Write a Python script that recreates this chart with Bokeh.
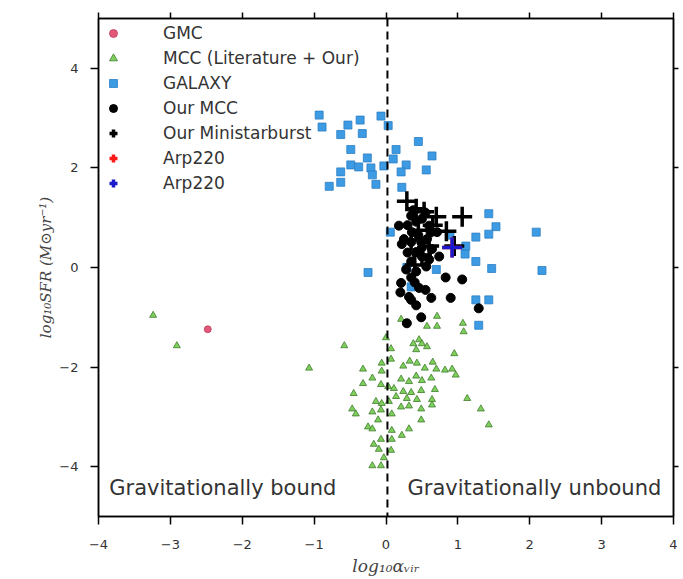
from bokeh.plotting import figure
from bokeh.models import (Span, Label, Legend, LegendItem, LinearAxis, FixedTicker)
from bokeh.embed import file_html
from bokeh.resources import INLINE

# ---------------- data ----------------
gmc_x = [-2.48]
gmc_y = [-1.24]

mcc_x = [-3.24, -2.91, -0.58, -1.07, 0.71, 0.21, 0.57, 0.71, 1.07, 1.08,
         0.46, 0.38, 0.57, 0.50, 0.42, 0.00, 0.07, 0.95, 0.07, 0.33,
         0.43, 0.65, -0.06, 0.24, -0.32, -0.06, 0.54, 0.70, 0.82, 0.92,
         0.97, -0.19, 0.21, 0.32, 0.42, 0.50, 0.63, -0.32, -0.07, 0.03,
         0.11, 0.24, 0.35, 0.49, 0.68, -0.45, 0.14, 0.29, 0.43, 0.64,
         1.13, -0.14, -0.06, 0.04, 0.21, 0.32, 0.49, 0.64, 1.32, -0.47,
         -0.42, -0.19, -0.07, 0.08, 0.49, -0.11, -0.25, -0.19, 0.08, 0.32,
         0.22, 1.43, -0.07, 0.08, -0.17, -0.10, 0.07, -0.03, -0.19, -0.07]
mcc_y = [-0.96, -1.57, -1.57, -2.02, -0.98, -1.04, -1.18, -1.18, -1.12, -1.29,
         -1.45, -1.53, -1.59, -1.53, -1.65, -1.41, -1.63, -1.73, -1.84, -1.88,
         -1.92, -1.90, -1.92, -1.98, -2.04, -2.08, -2.02, -2.04, -2.06, -2.04,
         -2.16, -2.22, -2.24, -2.29, -2.18, -2.27, -2.22, -2.33, -2.35, -2.39,
         -2.43, -2.49, -2.51, -2.47, -2.45, -2.53, -2.59, -2.63, -2.65, -2.65,
         -2.63, -2.69, -2.73, -2.69, -2.80, -2.78, -2.84, -2.76, -2.84, -2.84,
         -2.94, -2.90, -2.86, -2.94, -3.06, -3.06, -3.20, -3.24, -3.27, -3.24,
         -3.37, -3.16, -3.45, -3.45, -3.55, -3.65, -3.67, -3.82, -3.98, -3.98]

gal_x = [-0.93, -0.89, -0.53, -0.36, -0.33, -0.63, -0.07, 0.03, 0.45, -0.49,
         0.14, 0.64, -0.26, 0.10, 0.28, -0.49, -0.38, -0.21, -0.03, 0.21,
         0.56, -0.63, -0.19, -0.63, -0.79, -0.14, 0.22, 0.06, -0.25,
         1.43, 1.53, 1.43, 1.25, 0.89, 1.10, 1.25, 1.47, 0.70, 0.35,
         1.25, 1.43, 1.29, 2.09, 2.17, 1.11, 0.29]
gal_y = [3.06, 2.82, 2.86, 2.96, 2.69, 2.67, 3.04, 2.85, 2.53, 2.37,
         2.37, 2.24, 2.20, 2.18, 2.06, 2.06, 2.02, 2.00, 2.04, 1.92,
         1.96, 1.92, 1.86, 1.71, 1.63, 1.67, 1.61, 0.71, -0.10,
         1.08, 0.82, 0.67, 0.61, 0.65, 0.27, 0.12, -0.02, -0.04, -0.39,
         -0.65, -0.65, -1.16, 0.71, -0.06, 0.43, 0.00]

our_mcc_x = [0.35, 0.42, 0.50, 0.60, 0.36, 0.25, 0.35, 0.49, 0.57, 0.64,
             0.42, 0.50, 0.60, 0.35, 0.28, 0.42, 0.35, 0.21, 0.46, 0.83,
             1.06, 0.63, 0.90, 0.32, 0.42, 0.35, 0.49, 0.29, 1.29, 0.56,
             0.71, 0.22, 0.18, 0.74, 0.20, 0.40, 0.55, 0.30, 0.45, 0.38,
             0.55, 0.30, 0.50, 0.62]
our_mcc_y = [1.04, 0.92, 0.98, 0.84, 0.71, 0.57, 0.51, 0.51, 0.57, 0.37,
             0.31, 0.22, 0.16, 0.12, -0.04, -0.08, -0.20, -0.31, -0.41, -0.20,
             -0.24, -0.61, -0.61, -0.59, -0.76, -0.65, -1.00, -1.12, -0.82, 0.02,
             0.71, 0.47, 0.84, 0.22, -0.50, -0.30, -0.45, 0.30, 0.65, 1.15,
             1.10, 0.85, 0.40, 0.70]

msb_x = [0.29, 0.42, 0.53, 0.70, 1.06, 0.95, 0.60, 0.45, 0.50, 0.35, 0.65, 0.40, 0.84]
msb_y = [1.33, 1.18, 1.12, 1.02, 1.02, 0.43, 0.43, 0.75, 0.25, 0.55, 0.85, 0.05, 0.73]

arp_red_x = [0.92]
arp_red_y = [0.40]
arp_blue_x = [0.92]
arp_blue_y = [0.40]

x_ticks = [-4, -3, -2, -1, 0, 1, 2, 3, 4]
y_ticks = [-4, -2, 0, 2, 4]

sans = "DejaVu Sans"

# ---------------- figure ----------------
p = figure(frame_width=575, frame_height=498,
           x_range=(-4, 4), y_range=(-5, 5),
           output_backend="svg", toolbar_location=None,
           min_border_left=98, min_border_right=10,
           min_border_top=18, min_border_bottom=63,
           background_fill_color="white", border_fill_color="white")
p.grid.visible = False
p.outline_line_color = "black"
p.outline_line_width = 1.5

for ax in (p.xaxis[0], p.yaxis[0]):
    ax.major_tick_in = 0
    ax.major_tick_out = 8
    ax.minor_tick_line_color = None
    ax.axis_line_width = 1.5
    ax.major_tick_line_width = 1.5
    ax.major_label_text_font = sans
    ax.major_label_text_font_size = "13px"
    ax.major_label_text_color = "#333333"
    ax.axis_label_text_font = "DejaVu Serif"
    ax.axis_label_text_font_style = "italic"
    ax.axis_label_text_color = "#444444"

p.xaxis[0].ticker = FixedTicker(ticks=x_ticks)
p.yaxis[0].ticker = FixedTicker(ticks=y_ticks)
p.xaxis[0].axis_label = "log₁₀αᵥᵢᵣ"
p.yaxis[0].axis_label = "log₁₀SFR (M⊙yr⁻¹)"
p.xaxis[0].axis_label_text_font_size = "17px"
p.yaxis[0].axis_label_text_font_size = "15px"
p.xaxis[0].major_label_standoff = 15
p.yaxis[0].major_label_standoff = 12
p.xaxis[0].axis_label_standoff = 4
p.yaxis[0].axis_label_standoff = 1

top = LinearAxis(ticker=FixedTicker(ticks=x_ticks), major_label_text_color=None,
                 major_label_text_font_size="1px", major_label_standoff=0,
                 major_tick_in=0, major_tick_out=6, minor_tick_line_color=None,
                 axis_line_width=1.5, major_tick_line_width=1.5)
right = LinearAxis(ticker=FixedTicker(ticks=y_ticks), major_label_text_color=None,
                   major_label_text_font_size="1px", major_label_standoff=0,
                   major_tick_in=0, major_tick_out=5, minor_tick_line_color=None,
                   axis_line_width=1.5, major_tick_line_width=1.5)
p.add_layout(top, "above")
p.add_layout(right, "right")

p.add_layout(Span(location=0.02, dimension="height", line_color="black",
                  line_dash="8 5", line_width=2))

r_gmc = p.scatter(gmc_x, gmc_y, marker="circle", size=7,
                  fill_color="#e0587a", line_color="#c04060", line_width=0.8)
r_mcc = p.scatter(mcc_x, mcc_y, marker="triangle", size=7,
                  fill_color="#7fcf5c", line_color="#3d7a2c", line_width=0.8)
r_gal = p.scatter(gal_x, gal_y, marker="square", size=8,
                  fill_color="#3d9be3", line_color="#2c7fc4", line_width=0.8)
r_our = p.scatter(our_mcc_x, our_mcc_y, marker="circle", size=9,
                  fill_color="black", line_color="black")
r_msb = p.scatter(msb_x, msb_y, marker="cross", size=20,
                  line_color="black", line_width=3.5)
r_red = p.scatter(arp_red_x, arp_red_y, marker="cross", size=20,
                  line_color="#ff1a1a", line_width=3.5)
r_blue = p.scatter(arp_blue_x, arp_blue_y, marker="cross", size=20,
                   line_color="#1a1acc", line_width=3.5)

legend = Legend(items=[
    LegendItem(label="GMC", renderers=[r_gmc]),
    LegendItem(label="MCC (Literature + Our)", renderers=[r_mcc]),
    LegendItem(label="GALAXY", renderers=[r_gal]),
    LegendItem(label="Our MCC", renderers=[r_our]),
    LegendItem(label="Our Ministarburst", renderers=[r_msb]),
    LegendItem(label="Arp220", renderers=[r_red]),
    LegendItem(label="Arp220", renderers=[r_blue]),
], location="top_left")
legend.border_line_color = None
legend.background_fill_alpha = 0
legend.margin = 5
legend.padding = 8
legend.spacing = 5
legend.glyph_width = 20
legend.glyph_height = 20
legend.label_height = 20
legend.label_standoff = 40
legend.label_text_font = sans
legend.label_text_font_size = "17px"
legend.label_text_color = "#333333"
p.add_layout(legend)

p.add_layout(Label(x=-3.85, y=-4.43, text="Gravitationally bound",
                   text_font=sans, text_font_size="21px",
                   text_color="#333333", text_baseline="middle"))
p.add_layout(Label(x=0.3, y=-4.43, text="Gravitationally unbound",
                   text_font=sans, text_font_size="21px",
                   text_color="#333333", text_baseline="middle"))

open("out.html", "w").write(file_html(p, INLINE))
